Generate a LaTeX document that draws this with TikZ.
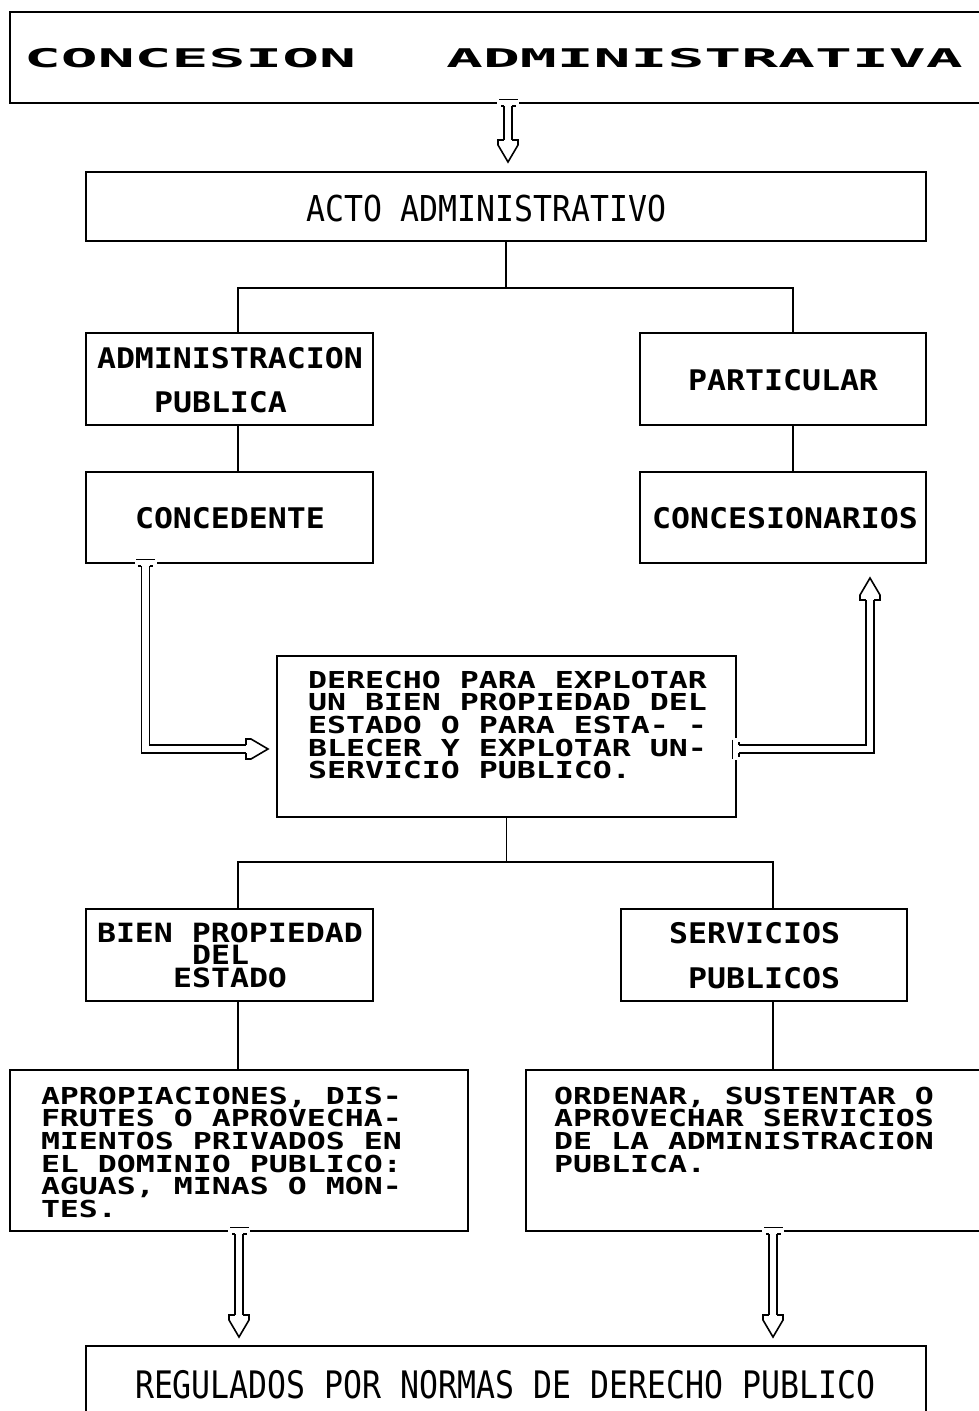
\documentclass[tikz,border=0pt]{standalone}
\usepackage{fontspec}
\usepackage{graphicx}
\newfontfamily\monof{DejaVu Sans Mono}
\usetikzlibrary{calc}
\newcommand\mtxt[5]{\scalebox{1}[#3]{\vtop{#1\fontsize{#2}{#4}\selectfont\frenchspacing\lineskiplimit=-200pt\lineskip=0pt\tabskip=0pt\relax\halign{##\hfil\cr#5\crcr}}}}
\tikzset{
  box/.style={draw, line width=1.8pt, inner sep=0pt, outer sep=0pt, rectangle},
  conn/.style={draw, line width=1.8pt},
  dshaft/.style={draw, line width=1.6pt, double=white, double distance=6.5pt, shorten <=3pt, shorten >=22pt},
  lbl/.style={anchor=base west, inner sep=0pt, outer sep=0pt},
  dhead/.pic={\draw[line width=1.6pt, line join=miter] (-22,4.05) -- (-22,10) -- (-17,10) -- (0,0) -- (-17,-10) -- (-22,-10) -- (-22,-4.05);},
  dtail/.pic={\fill[white] (-1.5,-11) rectangle (1.5,11);
    \draw[line width=1.6pt] (-3.5,-9.5) -- (-3.5,9.5);
    \draw[line width=1.6pt] (3,-4.05) -- (3,-7.5) (3,4.05) -- (3,7.5);}
}
\begin{document}
\begin{tikzpicture}[x=1pt,y=-1pt]
\fill[white] (0,0) rectangle (978,1411);
\useasboundingbox (0,0) rectangle (978,1411);
% boxes
\node[box, minimum width=996pt, minimum height=91pt] (top) at (508,57.5) {};
\node[box, minimum width=840pt, minimum height=69pt] (acto) at (506,206.5) {};
\node[box, minimum width=287pt, minimum height=92pt] (admin) at (229.5,379) {};
\node[box, minimum width=286pt, minimum height=92pt] (part) at (783,379) {};
\node[box, minimum width=287pt, minimum height=91pt] (conced) at (229.5,517.5) {};
\node[box, minimum width=286pt, minimum height=91pt] (conces) at (783,517.5) {};
\node[box, minimum width=459pt, minimum height=161pt] (derecho) at (506.5,736.5) {};
\node[box, minimum width=287pt, minimum height=92pt] (bien) at (229.5,955) {};
\node[box, minimum width=286pt, minimum height=92pt] (serv) at (764,955) {};
\node[box, minimum width=458pt, minimum height=161pt] (aprop) at (239,1150.5) {};
\node[box, minimum width=494pt, minimum height=161pt] (orden) at (773,1150.5) {};
\node[box, minimum width=840pt, minimum height=94pt] (regul) at (506,1393) {};
% texts
\node[lbl] (tTitle) at (24,67) {\mtxt{\monof\bfseries}{61.3pt}{0.42}{70pt}{CONCESION\hspace{90pt}ADMINISTRATIVA}};
\node[lbl] (tActo) at (306,221) {\mtxt{\monof}{31.56pt}{1.13}{30pt}{ACTO ADMINISTRATIVO}};
\node[lbl] (tAdmin) at (97,368) {\mtxt{\monof\bfseries}{31.56pt}{0.9}{48.9pt}{ADMINISTRACION\cr~~~PUBLICA}};
\node[lbl] (tPart) at (688,390) {\mtxt{\monof\bfseries}{31.56pt}{0.9}{30pt}{PARTICULAR}};
\node[lbl] (tConced) at (135,528) {\mtxt{\monof\bfseries}{31.56pt}{0.9}{30pt}{CONCEDENTE}};
\node[lbl] (tConces) at (652,528) {\mtxt{\monof\bfseries}{31.56pt}{0.9}{30pt}{CONCESIONARIOS}};
\node[lbl] (tDerecho) at (308,688) {\mtxt{\monof\bfseries}{31.56pt}{0.74}{30.7pt}{DERECHO PARA EXPLOTAR\cr UN BIEN PROPIEDAD DEL\cr ESTADO O PARA ESTA- -\cr BLECER Y EXPLOTAR UN-\cr SERVICIO PUBLICO.}};
\node[lbl] (tBien) at (97,942) {\mtxt{\monof\bfseries}{31.56pt}{0.84}{26.8pt}{BIEN PROPIEDAD\cr~~~~~DEL\cr~~~~ESTADO}};
\node[lbl] (tServ) at (669,943) {\mtxt{\monof\bfseries}{31.56pt}{0.9}{50pt}{SERVICIOS\cr~PUBLICOS}};
\node[lbl] (tAprop) at (41,1104) {\mtxt{\monof\bfseries}{31.56pt}{0.74}{30.7pt}{APROPIACIONES, DIS-\cr FRUTES O APROVECHA-\cr MIENTOS PRIVADOS EN\cr EL DOMINIO PUBLICO:\cr AGUAS, MINAS O MON-\cr TES.}};
\node[lbl] (tOrden) at (554,1104) {\mtxt{\monof\bfseries}{31.56pt}{0.74}{30.7pt}{ORDENAR, SUSTENTAR O\cr APROVECHAR SERVICIOS\cr DE LA ADMINISTRACION\cr PUBLICA.}};
\node[lbl] (tRegul) at (135,1398) {\mtxt{\monof}{31.56pt}{1.2}{30pt}{REGULADOS POR NORMAS DE DERECHO PUBLICO}};
% tree connectors
\coordinate (j1) at ([yshift=-47pt]acto.south);
\draw[conn] (acto.south) -- (j1);
\draw[conn] ([xshift=8.5pt]admin.north) |- (j1) -| ([xshift=10pt]part.north);
\draw[conn] ([xshift=8.5pt]admin.south) -- ([xshift=8.5pt]conced.north);
\draw[conn] ([xshift=10pt]part.south) -- ([xshift=10pt]conces.north);
\coordinate (j2) at ([yshift=-45pt]derecho.south);
\draw[conn] (derecho.south) -- (j2);
\draw[conn] ([xshift=8.5pt]bien.north) |- (j2) -| ([xshift=9pt]serv.north);
\coordinate (b1) at ([xshift=8.5pt]bien.south);
\draw[conn] (b1) -- (b1 |- aprop.north);
\draw[conn] ([xshift=9pt]serv.south) -- (orden.north);
% double arrows
\coordinate (p1) at (top.south |- acto.north);
\coordinate (a1tip) at ([yshift=10pt]p1);
\pic[rotate=-90] at (top.south) {dtail};
\draw[dshaft] (top.south) -- (a1tip);
\pic[rotate=-90] at (a1tip) {dhead};
\coordinate (a2s) at ([xshift=-84pt]conced.south);
\coordinate (a2tip) at ([xshift=-9pt,yshift=-12.5pt]derecho.west);
\pic[rotate=-90] at (a2s) {dtail};
\draw[dshaft] (a2s) |- (a2tip);
\pic at (a2tip) {dhead};
\coordinate (a3s) at ([yshift=-12.5pt]derecho.east);
\coordinate (a3tip) at ([xshift=87pt,yshift=-15pt]conces.south);
\pic at (a3s) {dtail};
\draw[dshaft] (a3s) -| (a3tip);
\pic[rotate=90] at (a3tip) {dhead};
\coordinate (p4) at (aprop.south |- regul.north);
\coordinate (a4tip) at ([yshift=9pt]p4);
\pic[rotate=-90] at (aprop.south) {dtail};
\draw[dshaft] (aprop.south) -- (a4tip);
\pic[rotate=-90] at (a4tip) {dhead};
\coordinate (p5) at (orden.south |- regul.north);
\coordinate (a5tip) at ([yshift=9pt]p5);
\pic[rotate=-90] at (orden.south) {dtail};
\draw[dshaft] (orden.south) -- (a5tip);
\pic[rotate=-90] at (a5tip) {dhead};
\end{tikzpicture}
\end{document}
